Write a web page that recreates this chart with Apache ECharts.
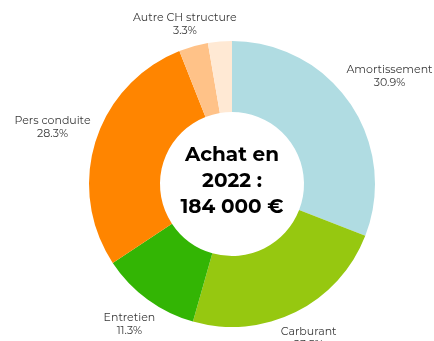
<!DOCTYPE html>
<html>
<head>
<meta charset="utf-8">
<script src="https://cdn.jsdelivr.net/npm/echarts@6/dist/echarts.min.js"></script>
<style>
  html, body { margin: 0; padding: 0; background: #ffffff; }
  #chart { width: 434px; height: 341px; }
</style>
</head>
<body>
<div id="chart"></div>
<script>
// Cost breakdown (percent of total)
const categories = ['Amortissement', 'Carburant', 'Entretien', 'Pers conduite', 'Autre CH structure', 'Autres'];
const shares = [30.9, 23.5, 11.3, 28.3, 3.3, 2.7];
const sliceColors = ['#B0DCE2', '#96C810', '#33B504', '#FF8500', '#FFC288', '#FFE9D4'];
const showLabel = [true, true, true, true, true, false];
const centerLines = ['Achat en', '2022 :', '184 000 €'];

// Ring geometry (pixels)
const CX = 232, CY = 184, R_IN = 72, R_OUT = 143;
const LABEL_GAP = 5;     // space between ring edge and label box
const TOP_MARGIN = 11;   // keep labels inside the top edge
const FONT = 'Montserrat, Inter, "Noto Sans", sans-serif';

const total = shares.reduce((a, b) => a + b, 0);

// Mid angle of a slice, screen coordinates, clockwise from 12 o'clock
function midAngle(i) {
  let before = 0;
  for (let k = 0; k < i; k++) before += shares[k];
  return -Math.PI / 2 + ((before + shares[i] / 2) / total) * 2 * Math.PI;
}

const chart = echarts.init(document.getElementById('chart'), null, { renderer: 'canvas' });

chart.setOption({
  animation: false,
  backgroundColor: '#ffffff',
  graphic: [{
    type: 'text',
    z: 100,
    style: {
      x: CX,
      y: CY - 3,
      text: centerLines.join('\n'),
      align: 'center',
      verticalAlign: 'middle',
      fill: '#000000',
      font: 'bold 20px ' + FONT,
      lineHeight: 26
    }
  }],
  series: [{
    type: 'pie',
    center: [CX, CY],
    radius: [R_IN, R_OUT],
    startAngle: 90,
    clockwise: true,
    avoidLabelOverlap: false,
    emphasis: { disabled: true },
    itemStyle: { borderWidth: 0 },
    label: {
      show: true,
      position: 'inside',
      rotate: 0,
      color: '#3a3a3a',
      fontFamily: FONT,
      fontSize: 11,
      lineHeight: 13,
      textBorderWidth: 0,
      formatter: p => p.name + '\n' + p.value.toFixed(1) + '%'
    },
    labelLine: { show: false },
    labelLayout: function (p) {
      const a = midAngle(p.dataIndex);
      const vx = Math.cos(a), vy = Math.sin(a);
      const w = p.labelRect.width, h = p.labelRect.height;
      const reach = Math.abs(vx) * w / 2 + Math.abs(vy) * h / 2;
      const d = R_OUT + LABEL_GAP + reach;
      const x = CX + vx * d;
      let y = CY + vy * d;
      if (y - h / 2 < TOP_MARGIN) y = TOP_MARGIN + h / 2;
      return { x: x, y: y, align: 'center', verticalAlign: 'middle' };
    },
    data: categories.map((name, i) => ({
      name: name,
      value: shares[i],
      itemStyle: { color: sliceColors[i] },
      label: { show: showLabel[i] }
    }))
  }]
});
</script>
</body>
</html>
